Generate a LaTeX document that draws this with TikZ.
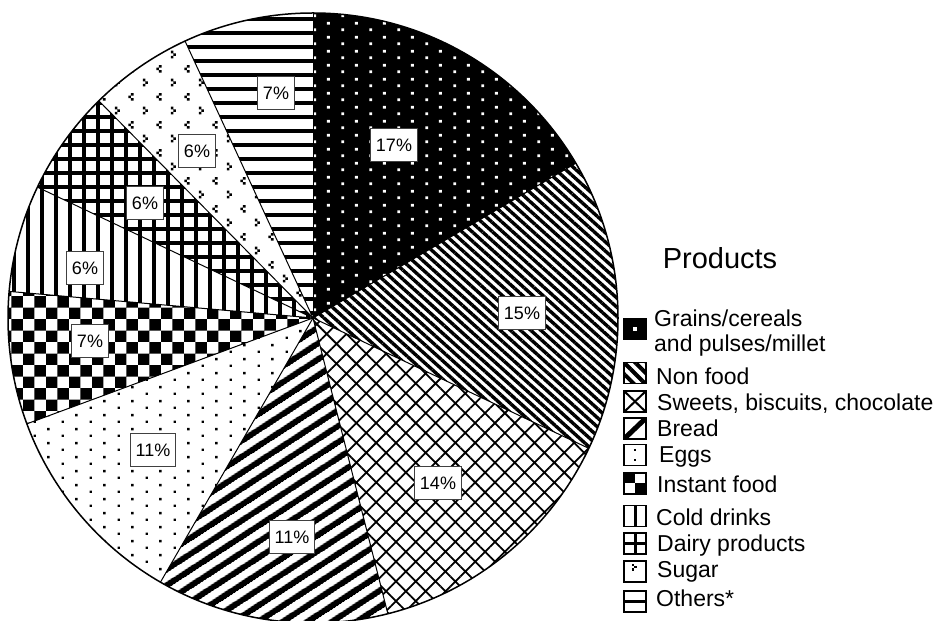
\documentclass[tikz,border=0pt]{standalone}
\usepackage{fontspec}
\setmainfont{Liberation Sans}
\usetikzlibrary{patterns.meta}

\pgfdeclarepattern{
  name=whitedots, type=uncolored,
  bottom left={\pgfpoint{0pt}{0pt}}, top right={\pgfpoint{28pt}{14pt}},
  tile size={\pgfpoint{28pt}{14pt}},
  code={
    \pgfpathrectangle{\pgfpoint{5.5pt}{2pt}}{\pgfpoint{3pt}{3pt}}
    \pgfpathrectangle{\pgfpoint{19.5pt}{9pt}}{\pgfpoint{3pt}{3pt}}
    \pgfusepath{fill}
  }
}
\pgfdeclarepattern{
  name=eggdots, type=uncolored,
  bottom left={\pgfpoint{0pt}{0pt}}, top right={\pgfpoint{28pt}{14pt}},
  tile size={\pgfpoint{28pt}{14pt}},
  code={
    \pgfpathrectangle{\pgfpoint{5.75pt}{2.25pt}}{\pgfpoint{2.5pt}{2.5pt}}
    \pgfpathrectangle{\pgfpoint{19.75pt}{9.25pt}}{\pgfpoint{2.5pt}{2.5pt}}
    \pgfusepath{fill}
  }
}
\pgfdeclarepattern{
  name=checker, type=uncolored,
  bottom left={\pgfpoint{0pt}{0pt}}, top right={\pgfpoint{23.4pt}{23.4pt}},
  tile size={\pgfpoint{23.4pt}{23.4pt}},
  code={
    \pgfpathrectangle{\pgfpoint{0pt}{0pt}}{\pgfpoint{11.7pt}{11.7pt}}
    \pgfpathrectangle{\pgfpoint{11.7pt}{11.7pt}}{\pgfpoint{11.7pt}{11.7pt}}
    \pgfusepath{fill}
  }
}
\pgfdeclarepattern{
  name=sugarmarks, type=uncolored,
  bottom left={\pgfpoint{0pt}{0pt}}, top right={\pgfpoint{28pt}{28pt}},
  tile size={\pgfpoint{28pt}{28pt}},
  code={
    \pgfpathrectangle{\pgfpoint{3pt}{8pt}}{\pgfpoint{2.6pt}{2.6pt}}
    \pgfpathrectangle{\pgfpoint{5.6pt}{5.4pt}}{\pgfpoint{2.6pt}{2.6pt}}
    \pgfpathrectangle{\pgfpoint{3pt}{2.8pt}}{\pgfpoint{2.6pt}{2.6pt}}
    \pgfpathrectangle{\pgfpoint{19.6pt}{22pt}}{\pgfpoint{2.6pt}{2.6pt}}
    \pgfpathrectangle{\pgfpoint{17pt}{19.4pt}}{\pgfpoint{2.6pt}{2.6pt}}
    \pgfpathrectangle{\pgfpoint{19.6pt}{16.8pt}}{\pgfpoint{2.6pt}{2.6pt}}
    \pgfusepath{fill}
  }
}

\tikzset{
  grainsP/.style={preaction={fill=black}, pattern=whitedots, pattern color=white},
  nonfoodP/.style={pattern={Lines[angle=-42, distance=6.8pt, line width=3.4pt]}},
  sweetsP/.style={pattern={Hatch[angle=45, distance=14pt, line width=1.8pt]}},
  breadP/.style={pattern={Lines[angle=33, distance=13pt, line width=6pt]}},
  eggsP/.style={pattern=eggdots},
  instantP/.style={pattern=checker},
  coldP/.style={pattern={Lines[angle=90, distance=14pt, line width=3.6pt]}},
  dairyP/.style={pattern={Hatch[angle=0, distance=14pt, line width=4pt]}},
  sugarP/.style={pattern=sugarmarks},
  othersP/.style={pattern={Lines[angle=0, distance=14pt, line width=4pt]}},
  pct/.style={draw=black!75, line width=0.9pt, fill=white,
    font=\fontsize{18}{20}\selectfont, minimum height=33pt,
    inner xsep=5.5pt, inner ysep=0pt},
  lg/.style={font=\fontsize{23}{26}\selectfont, anchor=base west, inner sep=0pt},
  sw/.style={draw=black, line width=1.8pt, minimum width=22pt,
    minimum height=21pt, inner sep=0pt, fill=white},
  sliceline/.style={line width=1pt},
}

\begin{document}
\begin{tikzpicture}[x=1pt,y=1pt]
\useasboundingbox (0,0) rectangle (946,621);
\def\R{305}
\coordinate (C) at (313,303);

% slices (clockwise from top)
\fill[grainsP]  (C) -- ++(90:\R)     arc[start angle=90,     end angle=30.5,   radius=\R] -- cycle;
\fill[nonfoodP] (C) -- ++(30.5:\R)   arc[start angle=30.5,   end angle=-25.3,  radius=\R] -- cycle;
\fill[sweetsP]  (C) -- ++(-25.3:\R)  arc[start angle=-25.3,  end angle=-75.8,  radius=\R] -- cycle;
\fill[breadP]   (C) -- ++(-75.8:\R)  arc[start angle=-75.8,  end angle=-120,   radius=\R] -- cycle;
\fill[eggsP]    (C) -- ++(-120:\R)   arc[start angle=-120,   end angle=-159.7, radius=\R] -- cycle;
\fill[instantP] (C) -- ++(-159.7:\R) arc[start angle=-159.7, end angle=-185,   radius=\R] -- cycle;
\fill[coldP]    (C) -- ++(-185:\R)   arc[start angle=-185,   end angle=-205.4, radius=\R] -- cycle;
\fill[dairyP]   (C) -- ++(-205.4:\R) arc[start angle=-205.4, end angle=-225.4, radius=\R] -- cycle;
\fill[sugarP]   (C) -- ++(-225.4:\R) arc[start angle=-225.4, end angle=-245.2, radius=\R] -- cycle;
\fill[othersP]  (C) -- ++(-245.2:\R) arc[start angle=-245.2, end angle=-270,   radius=\R] -- cycle;

\foreach \a in {90,30.5,-25.3,-75.8,-120,-159.7,-185,-205.4,-225.4,-245.2}
  \draw[sliceline] (C) -- ++(\a:\R);
\draw[line width=1.5pt] (C) circle[radius=\R];

% percentage labels
\node[pct] (p1)  at (394,476) {17\%};
\node[pct] (p2)  at (522,308) {15\%};
\node[pct] (p3)  at (438,138) {14\%};
\node[pct] (p4)  at (292,84)  {11\%};
\node[pct] (p5)  at (153,171) {11\%};
\node[pct] (p6)  at (90,280)  {7\%};
\node[pct] (p7)  at (85,353)  {6\%};
\node[pct] (p8)  at (145,418) {6\%};
\node[pct] (p9)  at (197,470) {6\%};
\node[pct] (p10) at (276,528) {7\%};

% legend
\node[font=\fontsize{29}{32}\selectfont, inner sep=0pt] (title) at (720,363) {Products};

\node[sw, fill=black] (s1) at (635,292) {};
\node[fill=white, minimum size=4pt, inner sep=0pt] (s1dot) at (s1.center) {};
\node[lg] (t1a) at (654,294) {Grains/cereals};
\node[lg] (t1b) at (654,269) {and pulses/millet};

\node[sw, path picture={
  \fill[black, pattern={Lines[angle=-45, distance=8pt, line width=4pt]}] (path picture bounding box.south west) rectangle (path picture bounding box.north east);}] (s2) at (635,248) {};
\node[lg] (t2) at (656,236) {Non food};

\node[sw, path picture={
  \draw[black, line width=2pt] (path picture bounding box.north west) -- (path picture bounding box.south east);
  \draw[black, line width=2pt] (path picture bounding box.south west) -- (path picture bounding box.north east);}] (s3) at (635,219.5) {};
\node[lg] (t3) at (657,210) {Sweets, biscuits, chocolate};

\node[sw, path picture={
  \draw[black, line width=5pt] (path picture bounding box.south west) -- (path picture bounding box.north east);}] (s4) at (635,192.5) {};
\node[lg] (t4) at (657,184) {Bread};

\node[sw, path picture={
  \fill[black] ([xshift=-1.2pt,yshift=-7pt]path picture bounding box.north) rectangle ++(2.6pt,2.6pt);
  \fill[black] ([xshift=-1.2pt,yshift=4pt]path picture bounding box.south) rectangle ++(2.6pt,2.6pt);}] (s5) at (635,166) {};
\node[lg] (t5) at (659,158) {Eggs};

\node[sw, path picture={
  \fill[black] (path picture bounding box.north west) rectangle (path picture bounding box.center);
  \fill[black] (path picture bounding box.center) rectangle (path picture bounding box.south east);}] (s6) at (635,137.5) {};
\node[lg] (t6) at (657,128) {Instant food};

\node[sw, path picture={
  \draw[black, line width=3pt] (path picture bounding box.north) -- (path picture bounding box.south);}] (s7) at (635,105) {};
\node[lg] (t7) at (656,95) {Cold drinks};

\node[sw, path picture={
  \draw[black, line width=3pt] (path picture bounding box.north) -- (path picture bounding box.south);
  \draw[black, line width=3pt] (path picture bounding box.west) -- (path picture bounding box.east);}] (s8) at (635,77.5) {};
\node[lg] (t8) at (657,69) {Dairy products};

\node[sw, path picture={
  \fill[black] ([xshift=-3pt,yshift=-5pt]path picture bounding box.north) rectangle ++(2.4pt,2.4pt);
  \fill[black] ([xshift=-0.6pt,yshift=-7.4pt]path picture bounding box.north) rectangle ++(2.4pt,2.4pt);
  \fill[black] ([xshift=-3pt,yshift=-9.8pt]path picture bounding box.north) rectangle ++(2.4pt,2.4pt);}] (s9) at (635,49.5) {};
\node[lg] (t9) at (657,43) {Sugar};

\node[sw, path picture={
  \draw[black, line width=3pt] (path picture bounding box.west) -- (path picture bounding box.east);}] (s10) at (635,19.5) {};
\node[lg] (t10) at (656,14) {Others*};
\end{tikzpicture}
\end{document}
